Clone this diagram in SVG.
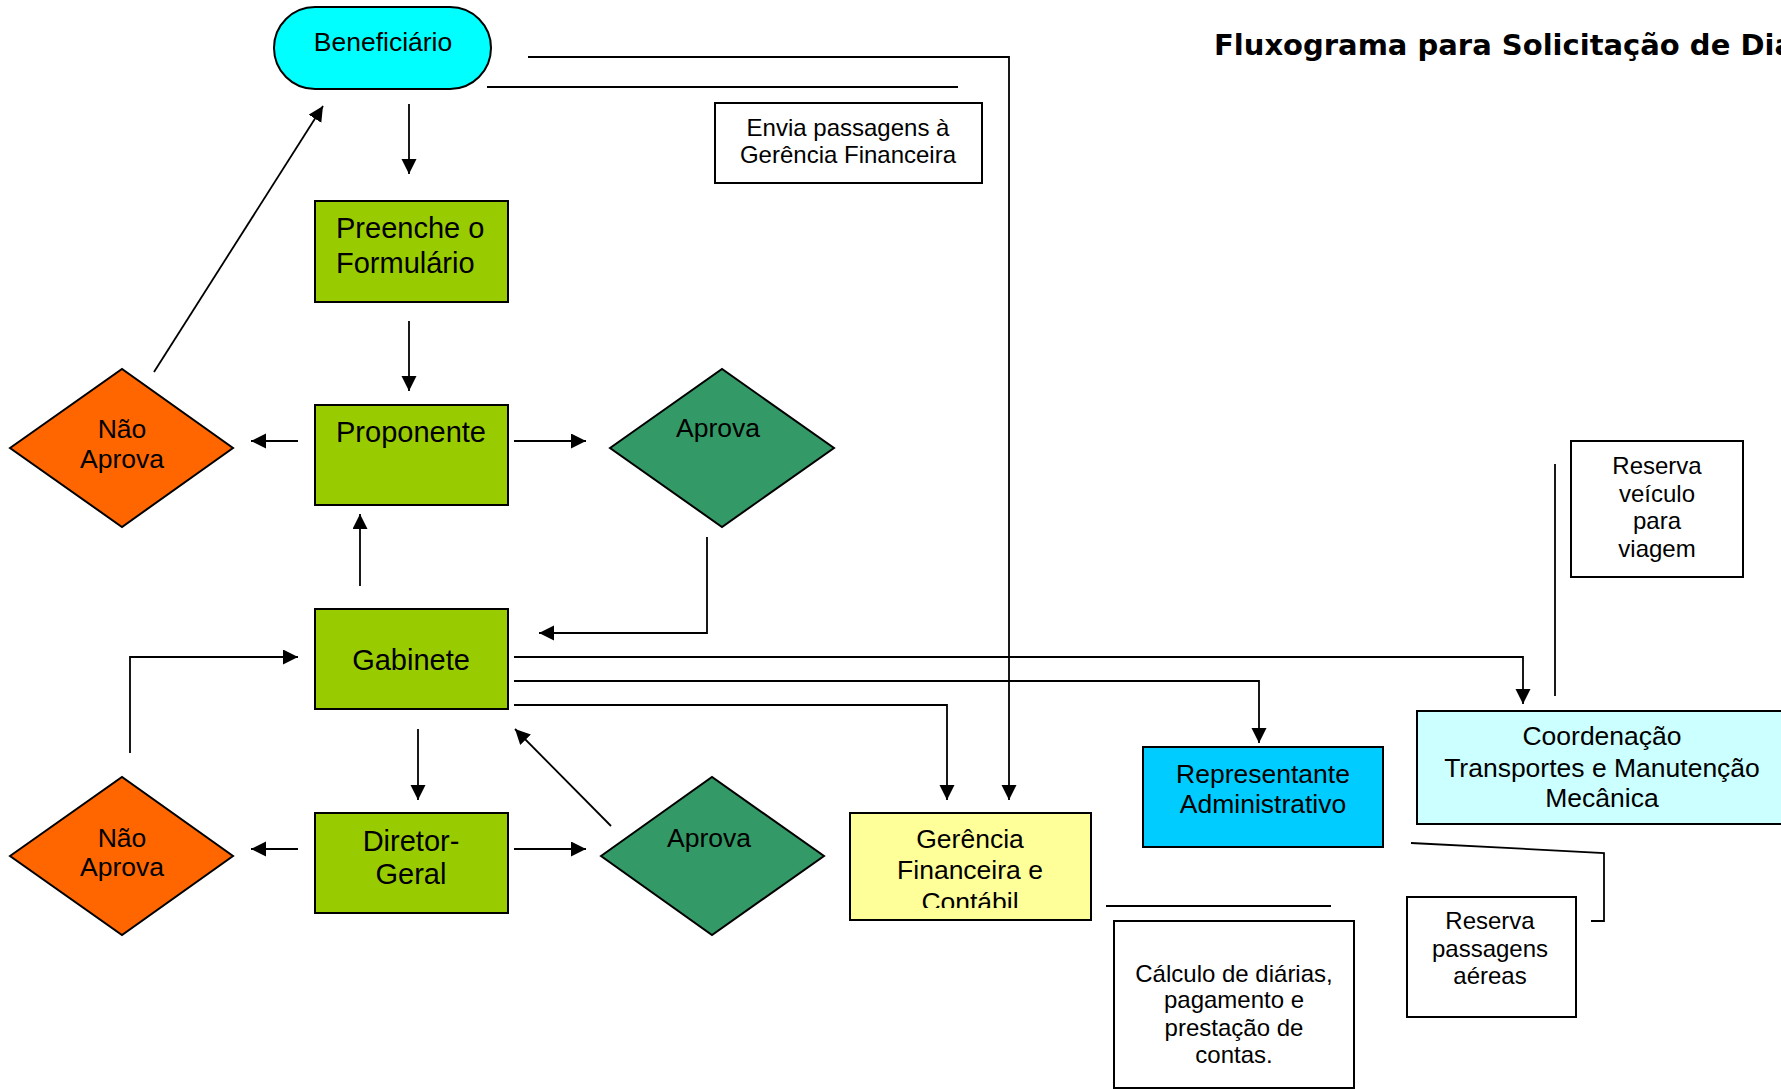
<svg xmlns="http://www.w3.org/2000/svg" width="1781" height="1089" viewBox="0 0 1781 1089">
<defs>
<marker id="arr" markerUnits="userSpaceOnUse" markerWidth="16" markerHeight="16" refX="15" refY="7.5" orient="auto">
<path d="M0,0 L15,7.5 L0,15 z" fill="#000"/>
</marker>
<clipPath id="gclip"><rect x="850" y="813" width="241" height="95"/></clipPath>
<style>
text{font-family:"Liberation Sans",Arial,sans-serif;fill:#000}
.c{text-anchor:middle}
.box{stroke:#000;stroke-width:2}
.ln{fill:none;stroke:#000;stroke-width:1.8}
.a{marker-end:url(#arr)}
.big{font-size:29px}
.mid{font-size:26.5px}
.sm{font-size:24px}
</style>
</defs>
<rect width="1781" height="1089" fill="#fff"/>
<text x="1214" y="55" style="font-family:'DejaVu Sans',Verdana,sans-serif;font-weight:bold;font-size:29px">Fluxograma para Solicitação de Dia</text>

<g id="connectors">
<path class="ln a" d="M409,104 V174"/>
<path class="ln a" d="M409,321 V391"/>
<path class="ln a" d="M298,441 H251"/>
<path class="ln a" d="M514,441 H586"/>
<path class="ln a" d="M154,372 L323,106"/>
<path class="ln a" d="M707,537 V633 H539"/>
<path class="ln a" d="M360,586 V514"/>
<path class="ln a" d="M130,753 V657 H298"/>
<path class="ln a" d="M514,657 H1523 V704"/>
<path class="ln a" d="M514,681 H1259 V743"/>
<path class="ln a" d="M514,705 H947 V800"/>
<path class="ln a" d="M528,57 H1009 V800"/>
<path class="ln" d="M487,87 H958"/>
<path class="ln a" d="M418,729 V800"/>
<path class="ln a" d="M298,849 H251"/>
<path class="ln a" d="M514,849 H586"/>
<path class="ln a" d="M611,826 L515,729"/>
<path class="ln" d="M1555,464 V696"/>
<path class="ln" d="M1411,843 L1604,853 V921 H1591"/>
<path class="ln" d="M1106,906 H1331"/>
</g>

<g id="beneficiario">
<rect class="box" x="274" y="7" width="217" height="82" rx="41" ry="41" fill="#00FFFF"/>
<text class="c mid" x="383" y="51">Beneficiário</text>
</g>
<g id="envia">
<rect class="box" x="715" y="103" width="267" height="80" fill="#fff"/>
<text class="c sm" x="848" y="136">Envia passagens à</text>
<text class="c sm" x="848" y="163">Gerência Financeira</text>
</g>
<g id="preenche">
<rect class="box" x="315" y="201" width="193" height="101" fill="#99CC00"/>
<text class="big" x="336" y="238">Preenche o</text>
<text class="big" x="336" y="273">Formulário</text>
</g>
<g id="nao-aprova-1">
<path class="box" d="M10,448 L122,369 L233,448 L122,527 z" fill="#FF6600"/>
<text class="c mid" x="122" y="438">Não</text>
<text class="c mid" x="122" y="468">Aprova</text>
</g>
<g id="proponente">
<rect class="box" x="315" y="405" width="193" height="100" fill="#99CC00"/>
<text class="c big" x="411" y="442">Proponente</text>
</g>
<g id="aprova-1">
<path class="box" d="M610,448 L722,369 L834,448 L722,527 z" fill="#339966"/>
<text class="c mid" x="718" y="437">Aprova</text>
</g>
<g id="reserva-veiculo">
<rect class="box" x="1571" y="441" width="172" height="136" fill="#fff"/>
<text class="c sm" x="1657" y="474">Reserva</text>
<text class="c sm" x="1657" y="502">veículo</text>
<text class="c sm" x="1657" y="529">para</text>
<text class="c sm" x="1657" y="557">viagem</text>
</g>
<g id="gabinete">
<rect class="box" x="315" y="609" width="193" height="100" fill="#99CC00"/>
<text class="c big" x="411" y="670">Gabinete</text>
</g>
<g id="coordenacao">
<rect class="box" x="1417" y="711" width="380" height="113" fill="#CCFFFF"/>
<text class="c mid" x="1602" y="745">Coordenação</text>
<text class="c mid" x="1602" y="777">Transportes e Manutenção</text>
<text class="c mid" x="1602" y="807">Mecânica</text>
</g>
<g id="representante">
<rect class="box" x="1143" y="747" width="240" height="100" fill="#00CCFF"/>
<text class="c mid" x="1263" y="783">Representante</text>
<text class="c mid" x="1263" y="813">Administrativo</text>
</g>
<g id="nao-aprova-2">
<path class="box" d="M10,856 L122,777 L233,856 L122,935 z" fill="#FF6600"/>
<text class="c mid" x="122" y="847">Não</text>
<text class="c mid" x="122" y="876">Aprova</text>
</g>
<g id="diretor">
<rect class="box" x="315" y="813" width="193" height="100" fill="#99CC00"/>
<text class="c big" x="411" y="851">Diretor-</text>
<text class="c big" x="411" y="884">Geral</text>
</g>
<g id="aprova-2">
<path class="box" d="M601,856 L712,777 L824,856 L712,935 z" fill="#339966"/>
<text class="c mid" x="709" y="847">Aprova</text>
</g>
<g id="gerencia">
<rect class="box" x="850" y="813" width="241" height="107" fill="#FFFF99"/>
<g clip-path="url(#gclip)">
<text class="c mid" x="970" y="848">Gerência</text>
<text class="c mid" x="970" y="879">Financeira e</text>
<text class="c mid" x="970" y="911">Contábil</text>
</g>
</g>
<g id="calculo">
<rect class="box" x="1114" y="921" width="240" height="167" fill="#fff"/>
<text class="c sm" x="1234" y="982">Cálculo de diárias,</text>
<text class="c sm" x="1234" y="1008">pagamento e</text>
<text class="c sm" x="1234" y="1036">prestação de</text>
<text class="c sm" x="1234" y="1063">contas.</text>
</g>
<g id="reserva-passagens">
<rect class="box" x="1407" y="897" width="169" height="120" fill="#fff"/>
<text class="c sm" x="1490" y="929">Reserva</text>
<text class="c sm" x="1490" y="957">passagens</text>
<text class="c sm" x="1490" y="984">aéreas</text>
</g>
</svg>
